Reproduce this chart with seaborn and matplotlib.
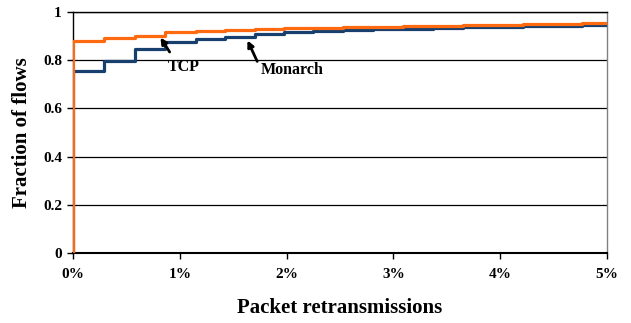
import matplotlib
matplotlib.use("Agg")
import matplotlib.pyplot as plt
import seaborn as sns
import pandas as pd
from matplotlib.ticker import FuncFormatter

# Data (percent of packets retransmitted, CDF fraction of flows)
monarch_x = [0, 0, 0.29, 0.58, 0.86, 1.15, 1.42, 1.70, 1.98, 2.25, 2.53, 2.81, 3.09, 3.37, 3.65, 3.93, 4.21, 4.49, 4.77, 5.0]
monarch_y = [0, 0.757, 0.795, 0.845, 0.874, 0.888, 0.898, 0.907, 0.915, 0.921, 0.925, 0.928, 0.931, 0.934, 0.936, 0.939, 0.941, 0.943, 0.945, 0.946]
tcp_x = [0, 0, 0.29, 0.58, 0.86, 1.15, 1.42, 1.70, 1.98, 2.25, 2.53, 2.81, 3.09, 3.37, 3.65, 3.93, 4.21, 4.49, 4.77, 5.0]
tcp_y = [0, 0.879, 0.891, 0.902, 0.915, 0.922, 0.926, 0.929, 0.932, 0.935, 0.937, 0.939, 0.941, 0.943, 0.945, 0.947, 0.949, 0.951, 0.953, 0.955]
x_ticks = [0, 1, 2, 3, 4, 5]
y_ticks = [0, 0.2, 0.4, 0.6, 0.8, 1.0]
y_tick_labels = ["0", "0.2", "0.4", "0.6", "0.8", "1"]

sns.set_theme(style="white")
plt.rcParams['font.family'] = ['Liberation Serif', 'DejaVu Serif']
plt.rcParams['font.weight'] = 'bold'
plt.rcParams['text.color'] = 'black'
plt.rcParams['axes.labelcolor'] = 'black'
plt.rcParams['xtick.color'] = 'black'
plt.rcParams['ytick.color'] = 'black'

fig = plt.figure(figsize=(6.31, 3.23), dpi=100)
ax = fig.add_axes([73/631, 1-253/323, (607-73)/631, (253-12)/323])

df_m = pd.DataFrame({"x": monarch_x, "y": monarch_y, "order": range(len(monarch_x))})
df_t = pd.DataFrame({"x": tcp_x, "y": tcp_y, "order": range(len(tcp_x))})

sns.lineplot(data=df_m, x="x", y="y", ax=ax, color="#17406F", lw=2.3,
             drawstyle="steps-post", estimator=None, sort=False, zorder=3)
sns.lineplot(data=df_t, x="x", y="y", ax=ax, color="#FF6A10", lw=2.3,
             drawstyle="steps-post", estimator=None, sort=False, zorder=4)

ax.set_xlim(0, 5)
ax.set_ylim(0, 1)
ax.set_xticks(x_ticks)
ax.xaxis.set_major_formatter(FuncFormatter(lambda v, p: f"{int(round(v))}%"))
ax.set_yticks(y_ticks)
ax.set_yticklabels(y_tick_labels)

ax.grid(axis='y', color='black', lw=0.9)
ax.set_axisbelow(True)

for s in ['left', 'bottom', 'top']:
    ax.spines[s].set_color('black')
ax.spines['bottom'].set_linewidth(1.5)
ax.spines['left'].set_linewidth(1.0)
ax.spines['top'].set_linewidth(1.0)
ax.spines['right'].set_color('#808080')
ax.spines['right'].set_linewidth(1.0)

ax.tick_params(axis='x', direction='out', length=4, width=1, color='black',
               labelsize=11, pad=7, bottom=True, labelcolor='black')
ax.tick_params(axis='y', direction='out', length=4, width=1, color='black',
               labelsize=11, pad=4, left=True, labelcolor='black')
for lab in ax.get_xticklabels() + ax.get_yticklabels():
    lab.set_fontweight('bold')

ax.set_xlabel("Packet retransmissions", fontsize=15, fontweight='bold', labelpad=12, color='black')
ax.set_ylabel("Fraction of flows", fontsize=15, fontweight='bold', labelpad=8, color='black')

arrow = dict(arrowstyle='-|>', lw=2, color='black', mutation_scale=9, shrinkA=0, shrinkB=0)
ax.annotate("", xy=(0.819, 0.894), xytext=(0.905, 0.834), arrowprops=arrow, zorder=6)
ax.text(1.04, 0.772, "TCP", ha='center', va='center', fontsize=11.5, fontweight='bold', color='black')
ax.annotate("", xy=(1.634, 0.882), xytext=(1.725, 0.795), arrowprops=arrow, zorder=6)
ax.text(1.76, 0.760, "Monarch", ha='left', va='center', fontsize=11.5, fontweight='bold', color='black')

fig.savefig("out.png", dpi=100)
